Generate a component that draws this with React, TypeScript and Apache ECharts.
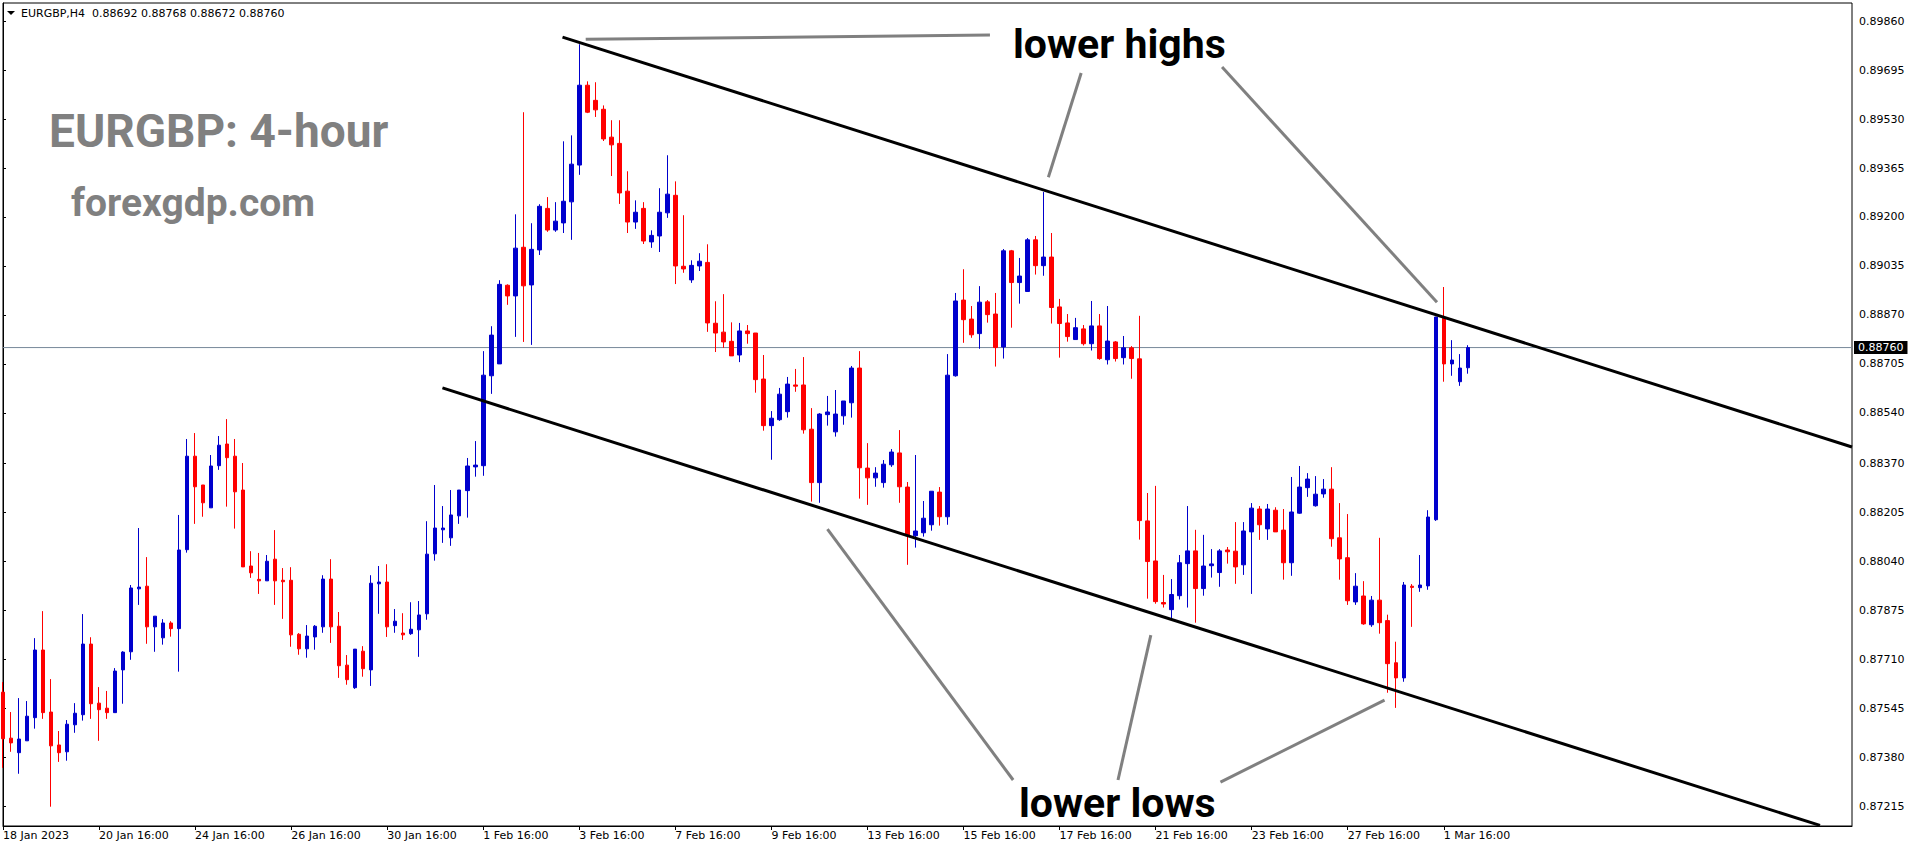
import React, { useEffect, useRef } from "react";
import * as echarts from "echarts";

const symbol = "EURGBP";
const timeframe = "H4";
const chartTitle = "EURGBP: 4-hour";
const siteName = "forexgdp.com";
const labelHighs = "lower highs";
const labelLows = "lower lows";

// H4 bars from 18 Jan 2023 16:00 (index 0) to 2 Mar 2023 04:00 (index 183)
const open = [
  0.87599, 0.87444, 0.87395, 0.87435, 0.87513, 0.87741, 0.87532, 0.87421, 0.87398, 0.87489,
  0.87523, 0.87761, 0.87562, 0.87545, 0.8753, 0.87674, 0.87735, 0.87947, 0.87956, 0.87819,
  0.87782, 0.87832, 0.87813, 0.88079, 0.88394, 0.88297, 0.8822, 0.88362, 0.88435, 0.88394,
  0.8828, 0.88024, 0.87979, 0.87974, 0.88047, 0.87976, 0.87976, 0.87794, 0.87745, 0.87785,
  0.87819, 0.8798, 0.87821, 0.8769, 0.87614, 0.87737, 0.87674, 0.87964, 0.8797, 0.87823,
  0.87798, 0.87796, 0.87809, 0.87863, 0.88065, 0.88146, 0.88119, 0.88193, 0.88278, 0.88358,
  0.88362, 0.88665, 0.88705, 0.8897, 0.88934, 0.89098, 0.88971, 0.89089, 0.89229, 0.89156,
  0.8918, 0.89251, 0.89375, 0.89644, 0.89593, 0.89563, 0.89469, 0.89448, 0.89287, 0.89183,
  0.89229, 0.89116, 0.89136, 0.89214, 0.89273, 0.89034, 0.88988, 0.89035, 0.89047, 0.88842,
  0.88812, 0.88781, 0.88735, 0.88816, 0.88809, 0.88654, 0.88497, 0.88517, 0.88544, 0.88634,
  0.88634, 0.88485, 0.88305, 0.88534, 0.88476, 0.8853, 0.88574, 0.88691, 0.88354, 0.88321,
  0.88305, 0.88365, 0.88405, 0.8829, 0.88126, 0.88136, 0.88163, 0.88273, 0.8819, 0.88665,
  0.8892, 0.88856, 0.88807, 0.88914, 0.88873, 0.88762, 0.89086, 0.88979, 0.88949, 0.89123,
  0.89036, 0.89065, 0.88897, 0.88843, 0.88787, 0.88823, 0.88773, 0.88833, 0.88719, 0.88779,
  0.88726, 0.88759, 0.88722, 0.88176, 0.88041, 0.87901, 0.87877, 0.87924, 0.88032, 0.88075,
  0.87948, 0.88025, 0.88002, 0.88078, 0.88074, 0.88028, 0.88139, 0.88216, 0.88149, 0.88212,
  0.88145, 0.88035, 0.88202, 0.88288, 0.88227, 0.88267, 0.88283, 0.88119, 0.88052, 0.87903,
  0.87923, 0.87826, 0.87909, 0.8784, 0.87698, 0.87647, 0.87956, 0.87951, 0.87957, 0.8818,
  0.88859, 0.88705, 0.88645, 0.88692,
];
const high = [
  0.87633, 0.87532, 0.87579, 0.87569, 0.87781, 0.87872, 0.87643, 0.87468, 0.87505, 0.87562,
  0.87862, 0.87784, 0.87616, 0.87603, 0.8768, 0.87737, 0.8796, 0.88152, 0.88054, 0.87855,
  0.87845, 0.87838, 0.88196, 0.88452, 0.88472, 0.88297, 0.88398, 0.88462, 0.88519, 0.88452,
  0.88371, 0.88074, 0.88068, 0.88061, 0.88145, 0.88017, 0.8802, 0.87798, 0.87825, 0.87825,
  0.87993, 0.88047, 0.87869, 0.87724, 0.87744, 0.87754, 0.87993, 0.88024, 0.8803, 0.87879,
  0.87865, 0.87902, 0.87906, 0.88175, 0.88297, 0.88226, 0.8828, 0.8828, 0.88388, 0.88445,
  0.88748, 0.88832, 0.88987, 0.88973, 0.89209, 0.89553, 0.89179, 0.89243, 0.89267, 0.8925,
  0.89455, 0.89475, 0.89782, 0.89657, 0.89654, 0.89576, 0.89526, 0.89526, 0.89354, 0.89256,
  0.8925, 0.89155, 0.89297, 0.89408, 0.8932, 0.89206, 0.89054, 0.89078, 0.89108, 0.88916,
  0.8894, 0.88845, 0.88843, 0.88836, 0.88809, 0.88735, 0.88546, 0.88624, 0.88661, 0.88688,
  0.88728, 0.88556, 0.88539, 0.88597, 0.88617, 0.8858, 0.88698, 0.88748, 0.88438, 0.88357,
  0.88381, 0.88418, 0.88482, 0.88307, 0.88398, 0.88243, 0.88276, 0.8829, 0.88738, 0.88944,
  0.89024, 0.889, 0.88967, 0.8892, 0.88944, 0.89092, 0.89089, 0.89062, 0.89129, 0.89136,
  0.89284, 0.89146, 0.88924, 0.88873, 0.8886, 0.88836, 0.88917, 0.88873, 0.889, 0.88782,
  0.88799, 0.88765, 0.88867, 0.8827, 0.88294, 0.87994, 0.8798, 0.88061, 0.88226, 0.88146,
  0.88129, 0.88081, 0.88081, 0.88088, 0.88172, 0.88172, 0.88236, 0.88226, 0.88233, 0.88222,
  0.88216, 0.88324, 0.88361, 0.88337, 0.88327, 0.88317, 0.88357, 0.88236, 0.88199, 0.88,
  0.87973, 0.87923, 0.88119, 0.8786, 0.87769, 0.8797, 0.87963, 0.88061, 0.88212, 0.88863,
  0.88964, 0.88785, 0.88738, 0.88768,
];
const low = [
  0.87344, 0.87398, 0.87324, 0.87435, 0.87476, 0.87509, 0.87213, 0.87364, 0.87368, 0.87462,
  0.87503, 0.87509, 0.87435, 0.87509, 0.8753, 0.8756, 0.87708, 0.87893, 0.87762, 0.87735,
  0.87759, 0.87786, 0.87668, 0.88069, 0.88166, 0.8819, 0.8822, 0.88348, 0.88224, 0.8815,
  0.88021, 0.87984, 0.8793, 0.87974, 0.87893, 0.87846, 0.87752, 0.87725, 0.87715, 0.87742,
  0.87799, 0.87765, 0.87647, 0.87624, 0.8761, 0.87651, 0.8762, 0.87863, 0.87785, 0.87799,
  0.87775, 0.87792, 0.87718, 0.87843, 0.88042, 0.88102, 0.88092, 0.88166, 0.88187, 0.88325,
  0.88328, 0.88604, 0.88705, 0.88904, 0.88796, 0.88779, 0.88769, 0.89072, 0.8915, 0.8915,
  0.89146, 0.89123, 0.89342, 0.8955, 0.89537, 0.89456, 0.89338, 0.89244, 0.89146, 0.8916,
  0.89109, 0.89096, 0.89082, 0.89197, 0.88974, 0.89012, 0.88978, 0.89018, 0.88813, 0.88745,
  0.88759, 0.88732, 0.88711, 0.88773, 0.88608, 0.8848, 0.88382, 0.88513, 0.88524, 0.88611,
  0.8847, 0.88241, 0.88237, 0.88497, 0.8846, 0.885, 0.88524, 0.88251, 0.8823, 0.88291,
  0.88288, 0.88358, 0.88237, 0.88028, 0.88086, 0.88123, 0.88143, 0.8816, 0.88163, 0.88662,
  0.88776, 0.88793, 0.88756, 0.88844, 0.88696, 0.88723, 0.88827, 0.88908, 0.88949, 0.89006,
  0.89002, 0.88841, 0.88726, 0.8878, 0.88787, 0.88767, 0.8875, 0.88719, 0.88703, 0.88713,
  0.88703, 0.88655, 0.88113, 0.87914, 0.87897, 0.87884, 0.87847, 0.87911, 0.87884, 0.87833,
  0.87924, 0.87985, 0.87954, 0.88032, 0.87964, 0.87994, 0.8793, 0.88112, 0.88112, 0.88139,
  0.87978, 0.87991, 0.882, 0.88257, 0.88224, 0.88254, 0.88089, 0.87978, 0.87893, 0.87893,
  0.87826, 0.87819, 0.87796, 0.87597, 0.87546, 0.87634, 0.87819, 0.87937, 0.87944, 0.88176,
  0.88645, 0.88665, 0.88631, 0.88672,
];
const close = [
  0.87442, 0.87428, 0.87441, 0.87518, 0.87741, 0.8753, 0.87418, 0.87395, 0.87491, 0.87528,
  0.87761, 0.8756, 0.8754, 0.8753, 0.8767, 0.87734, 0.8795, 0.87953, 0.87819, 0.87855,
  0.87832, 0.87813, 0.88078, 0.88394, 0.88291, 0.88237, 0.88361, 0.88431, 0.88389, 0.88274,
  0.88021, 0.88001, 0.87974, 0.8804, 0.87974, 0.87971, 0.87792, 0.87745, 0.87788, 0.87821,
  0.8798, 0.87819, 0.87688, 0.87641, 0.87744, 0.87678, 0.87966, 0.8797, 0.87819, 0.87838,
  0.87792, 0.87811, 0.87859, 0.88064, 0.88152, 0.88152, 0.88196, 0.8828, 0.88361, 0.88364,
  0.88667, 0.88802, 0.88973, 0.88934, 0.89095, 0.88968, 0.89091, 0.89236, 0.89156, 0.89186,
  0.89253, 0.89378, 0.89644, 0.89553, 0.89561, 0.89463, 0.89443, 0.89281, 0.89183, 0.89216,
  0.89119, 0.89138, 0.89216, 0.89277, 0.89035, 0.89025, 0.89037, 0.89051, 0.88843, 0.88809,
  0.88779, 0.88732, 0.88816, 0.88807, 0.88652, 0.88497, 0.88522, 0.88603, 0.88637, 0.8863,
  0.88483, 0.88305, 0.88536, 0.88543, 0.88536, 0.8858, 0.88691, 0.88355, 0.88321, 0.88337,
  0.88367, 0.88408, 0.88291, 0.88126, 0.88142, 0.88185, 0.88276, 0.8819, 0.88667, 0.88917,
  0.88854, 0.88803, 0.88913, 0.88871, 0.8876, 0.89086, 0.88979, 0.89001, 0.89123, 0.89036,
  0.89065, 0.88895, 0.88841, 0.88797, 0.88827, 0.88773, 0.88833, 0.88723, 0.88782, 0.88723,
  0.88759, 0.88723, 0.88177, 0.88039, 0.87904, 0.87896, 0.87928, 0.88035, 0.88075, 0.87948,
  0.88024, 0.88031, 0.88075, 0.88072, 0.88021, 0.88142, 0.88219, 0.88163, 0.88216, 0.88139,
  0.88035, 0.88206, 0.8829, 0.88317, 0.88266, 0.88283, 0.88116, 0.88048, 0.87907, 0.87956,
  0.87829, 0.87909, 0.87833, 0.87695, 0.87647, 0.8796, 0.87952, 0.8796, 0.88189, 0.88863,
  0.88705, 0.88718, 0.88691, 0.8876,
];

const xTickLabels = [
  "18 Jan 2023", "20 Jan 16:00", "24 Jan 16:00", "26 Jan 16:00", "30 Jan 16:00",
  "1 Feb 16:00", "3 Feb 16:00", "7 Feb 16:00", "9 Feb 16:00", "13 Feb 16:00",
  "15 Feb 16:00", "17 Feb 16:00", "21 Feb 16:00", "23 Feb 16:00", "27 Feb 16:00",
  "1 Mar 16:00",
];
const yTickLabels = [
  "0.89860", "0.89695", "0.89530", "0.89365", "0.89200", "0.89035", "0.88870",
  "0.88705", "0.88540", "0.88370", "0.88205", "0.88040", "0.87875", "0.87710",
  "0.87545", "0.87380", "0.87215",
];
const yMin = 0.87148;
const yMax = 0.89921;
const emptyBarsRight = 48;

// hand-drawn objects, [bar index, price]
const upperChannel = [[69.9, 0.89806], [231, 0.88425]];
const lowerChannel = [[54.9, 0.88624], [227, 0.8715]];
const highsLink = [[72.8, 0.89799], [123.3, 0.89813]];
const pointerHighsMid = [[134.7, 0.89685], [130.6, 0.89334]];
const pointerHighsRight = [[152.3, 0.89705], [179.15, 0.88913]];
const pointerLowsLeft = [[126.2, 0.87303], [103.0, 0.88148]];
const pointerLowsMid = [[139.3, 0.87303], [143.4, 0.87791]];
const pointerLowsRight = [[152.1, 0.87296], [172.6, 0.87572]];

const MONTHS = ["Jan", "Feb", "Mar", "Apr", "May", "Jun", "Jul", "Aug", "Sep", "Oct", "Nov", "Dec"];

function buildTimes(n: number): string[] {
  const out: string[] = [];
  let t = Date.UTC(2023, 0, 18, 16);
  while (out.length < n) {
    const d = new Date(t);
    const wd = d.getUTCDay();
    if (wd !== 0 && wd !== 6) {
      const hh = String(d.getUTCHours()).padStart(2, "0");
      out.push(`${d.getUTCDate()} ${MONTHS[d.getUTCMonth()]} ${hh}:00`);
    }
    t += 4 * 3600 * 1000;
  }
  return out;
}

const AXIS_FONT = "DejaVu Sans";
const BULL = "#0000CD";
const BEAR = "#FF0000";
const GRAY = "#808080";

export default function App() {
  const ref = useRef<HTMLDivElement>(null);

  useEffect(() => {
    if (!ref.current) return;
    const chart = echarts.init(ref.current, undefined, { renderer: "svg" });
    const nBars = open.length;
    const total = nBars + emptyBarsRight;
    const times = buildTimes(total);
    const showIdx = (i: number) => i % 12 === 0 && i < nBars;
    const yVals = yTickLabels.map(Number);
    const last = nBars - 1;
    const fmt = (v: number) => v.toFixed(5);

    const lineSeries = (data: number[][], color: string) => ({
      type: "line",
      xAxisIndex: 1,
      yAxisIndex: 0,
      data,
      symbol: "none",
      silent: true,
      z: 5,
      lineStyle: { color, width: 3 },
    });

    chart.setOption({
      animation: false,
      backgroundColor: "#ffffff",
      grid: {
        left: 2,
        top: 3,
        right: 64,
        bottom: 24,
        show: true,
        borderColor: "#000",
        borderWidth: 1,
        backgroundColor: "transparent",
      },
      xAxis: [
        {
          type: "category",
          data: times,
          boundaryGap: false,
          axisLine: { show: true, lineStyle: { color: "#000", width: 1 } },
          axisTick: {
            show: true,
            interval: (i: number) => showIdx(i),
            length: 4,
            lineStyle: { color: "#000" },
          },
          axisLabel: {
            interval: (i: number) => showIdx(i),
            formatter: (_v: string, i: number) => xTickLabels[i / 12] ?? "",
            align: "left",
            margin: 4,
            color: "#000",
            fontFamily: AXIS_FONT,
            fontSize: 11,
          },
          splitLine: { show: false },
        },
        { type: "value", min: 0, max: total - 1, show: false },
      ],
      yAxis: {
        type: "value",
        position: "right",
        min: yMin,
        max: yMax,
        axisLine: { show: true, lineStyle: { color: "#000" } },
        axisTick: { show: true, length: 3, customValues: yVals, lineStyle: { color: "#000" } },
        axisLabel: {
          customValues: yVals,
          formatter: (v: number) => fmt(v),
          margin: 7,
          color: "#000",
          fontFamily: AXIS_FONT,
          fontSize: 11,
        },
        splitLine: { show: false },
      },
      series: [
        {
          type: "line",
          xAxisIndex: 1,
          yAxisIndex: 0,
          data: [[0, close[last]], [total - 1, close[last]]],
          symbol: "none",
          silent: true,
          z: 1,
          lineStyle: { color: "#778899", width: 1 },
          endLabel: {
            show: true,
            distance: 2,
            formatter: () => fmt(close[last]),
            color: "#fff",
            backgroundColor: "#000",
            padding: [1, 4, 1, 4],
            fontFamily: AXIS_FONT,
            fontSize: 11,
          },
        },
        {
          type: "candlestick",
          z: 2,
          data: open.map((o, i) => [o, close[i], low[i], high[i]]),
          barWidth: 4,
          itemStyle: {
            color: BULL,
            color0: BEAR,
            borderColor: BULL,
            borderColor0: BEAR,
            borderColorDoji: BULL,
            borderWidth: 1,
          },
        },
        lineSeries(upperChannel, "#000"),
        lineSeries(lowerChannel, "#000"),
        lineSeries(highsLink, GRAY),
        lineSeries(pointerHighsMid, GRAY),
        lineSeries(pointerHighsRight, GRAY),
        lineSeries(pointerLowsLeft, GRAY),
        lineSeries(pointerLowsMid, GRAY),
        lineSeries(pointerLowsRight, GRAY),
      ],
      graphic: [
        {
          type: "polygon",
          shape: { points: [[7, 11], [15, 11], [11, 15]] },
          style: { fill: "#000" },
        },
        {
          type: "text",
          x: 21,
          y: 13,
          style: {
            text: `${symbol},${timeframe}  ${fmt(open[last])} ${fmt(high[last])} ${fmt(low[last])} ${fmt(close[last])}`,
            font: `11px "${AXIS_FONT}"`,
            fill: "#000",
            verticalAlign: "middle",
          },
        },
        {
          type: "text",
          x: 49,
          y: 131,
          style: { text: chartTitle, font: "bold 46px Roboto", fill: GRAY, verticalAlign: "middle" },
        },
        {
          type: "text",
          x: 71,
          y: 203,
          style: { text: siteName, font: "bold 39px Roboto", fill: GRAY, verticalAlign: "middle" },
        },
        {
          type: "text",
          x: 1013,
          y: 44,
          style: { text: labelHighs, font: "bold 41px Roboto", fill: "#000", verticalAlign: "middle" },
        },
        {
          type: "text",
          x: 1019,
          y: 803,
          style: { text: labelLows, font: "bold 41px Roboto", fill: "#000", verticalAlign: "middle" },
        },
      ],
    });
    return () => chart.dispose();
  }, []);

  return (
    <div
      ref={ref}
      style={{ position: "absolute", left: 0, top: 0, width: 1916, height: 850 }}
    />
  );
}
